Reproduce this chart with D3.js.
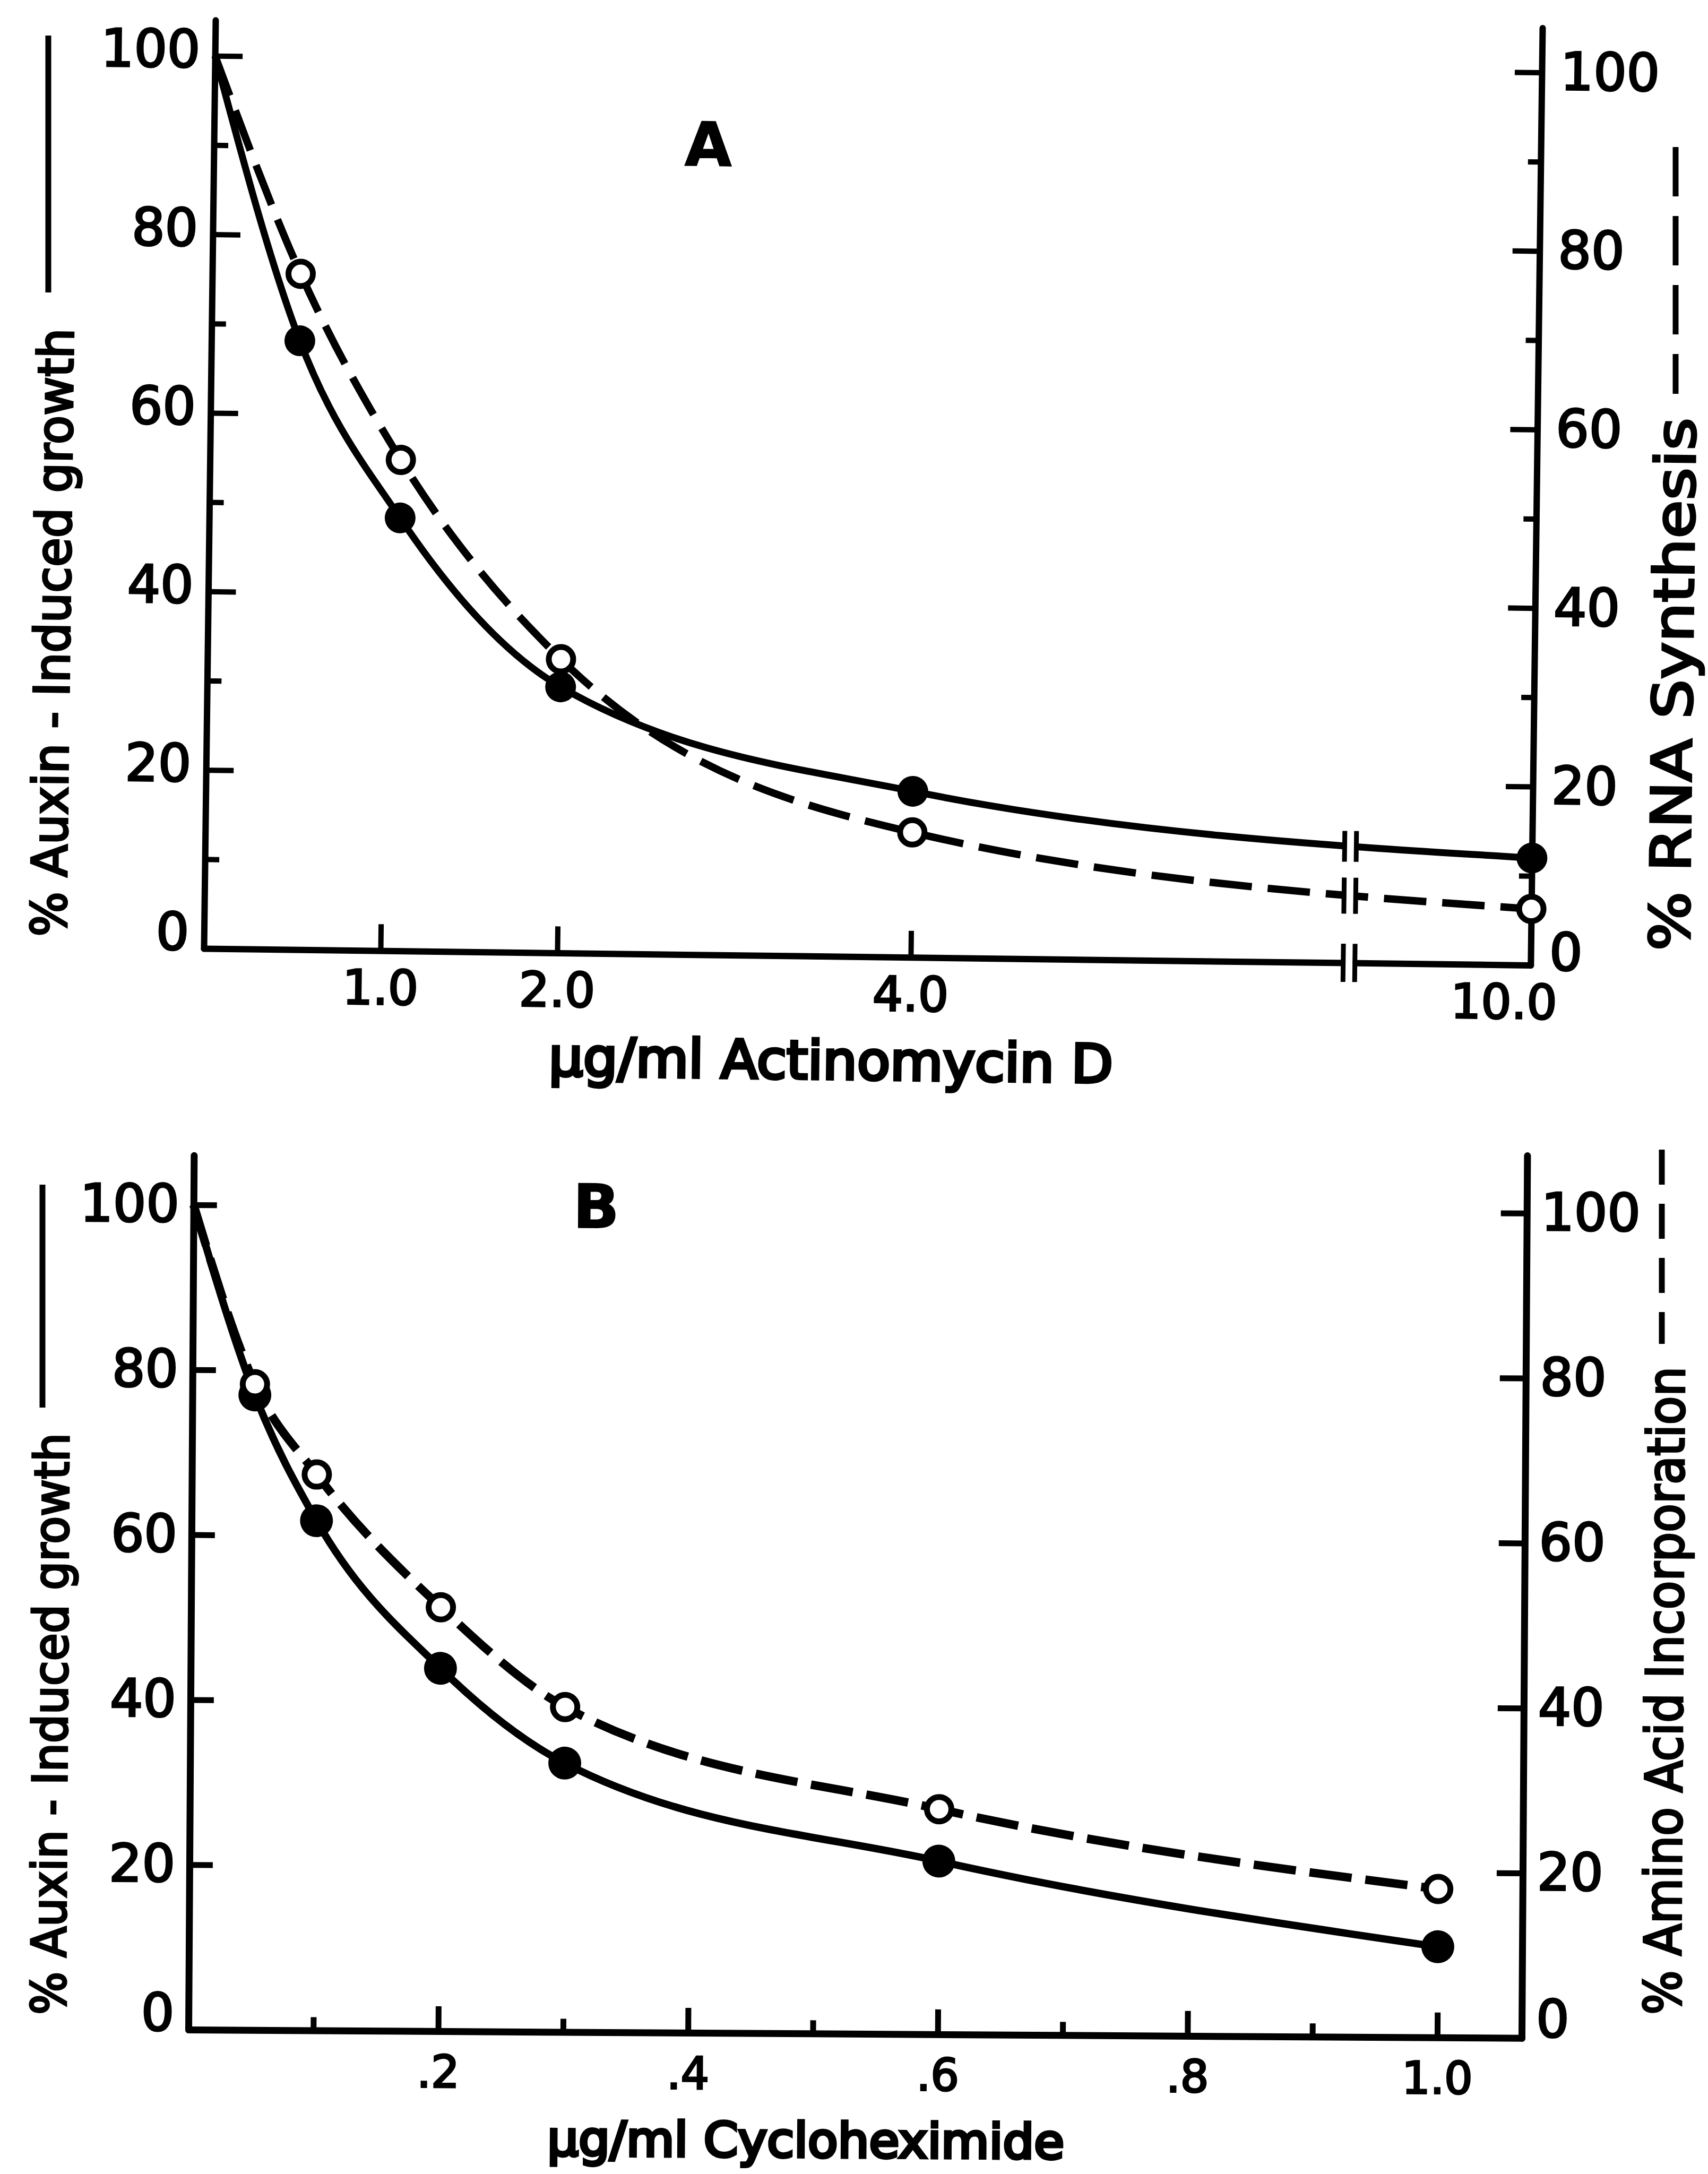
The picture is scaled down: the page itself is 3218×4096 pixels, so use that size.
<!DOCTYPE html>
<html>
<head>
<meta charset="utf-8">
<script src="https://cdn.jsdelivr.net/npm/d3@7/dist/d3.min.js"></script>
<style>
  body { margin: 0; background: #fff; }
  svg { display: block; }
</style>
</head>
<body>
<script>
const W = 3218, H = 4096;
const FONT = "'DejaVu Sans', 'Liberation Sans', sans-serif";

// panel A - Actinomycin D
const actDose = [0, 0.5, 1.08, 2.0, 4.0, 10.0];
const actGrowth = [100, 68.2, 48.5, 29.8, 18.6, 12.0];
const actRNA = [100, 75.7, 55.0, 32.9, 14.0, 6.3];
const actTicks = [1.0, 2.0, 4.0, 10.0];
const actTickLabels = ["1.0", "2.0", "4.0", "10.0"];
const actBreak = 6.48;

// panel B - Cycloheximide
const cycDose = [0, 0.05, 0.1, 0.2, 0.3, 0.6, 1.0];
const cycGrowth = [100, 77.0, 61.8, 44.0, 32.6, 21.0, 11.0];
const cycAmino = [100, 78.3, 67.4, 51.4, 39.4, 27.3, 18.0];
const cycTicks = [0.2, 0.4, 0.6, 0.8, 1.0];
const cycTickLabels = [".2", ".4", ".6", ".8", "1.0"];
const cycMinorTicks = [0.1, 0.3, 0.5, 0.7, 0.9];

// percent axes (both panels, both sides)
const pctTicks = [0, 20, 40, 60, 80, 100];
const pctMinorTicks = [10, 30, 50, 70, 90];

const svg = d3.select("body").append("svg")
  .attr("width", W)
  .attr("height", H)
  .style("background", "#fff");

function yAtX(node, xt) {
  let lo = 0, hi = node.getTotalLength();
  for (let k = 0; k < 40; k++) {
    const mid = (lo + hi) / 2;
    if (node.getPointAtLength(mid).x < xt) lo = mid; else hi = mid;
  }
  return node.getPointAtLength(lo).y;
}

function styleAxis(sel, p, fs) {
  sel.attr("font-family", FONT).attr("font-size", fs);
  sel.select(".domain").attr("stroke-width", p.axisW).attr("stroke-linecap", "round");
  sel.selectAll(".tick line").attr("stroke-width", p.tickW);
  // the printed digits are heavier than the plain face
  sel.selectAll(".tick text").attr("stroke", "#000").attr("stroke-width", 3.5);
}

function drawPanel(p) {
  // the scanned figure is slightly rotated, so each panel is too
  const g = svg.append("g")
    .attr("transform", `translate(${p.ox},${p.oy}) rotate(${p.angle})`);

  const x = p.x;
  const xEnd = d3.max(x.range());
  const yLeft = d3.scaleLinear().domain([0, p.leftTop]).range([0, -p.leftTop * p.unit]);
  const yRight = d3.scaleLinear().domain([0, p.rightTop]).range([0, -p.rightTop * p.unit]);

  // left axis
  const gl = g.append("g").call(
    d3.axisLeft(yLeft).tickValues(pctTicks).tickFormat((d) => d)
      .tickSize(-p.leftTick).tickSizeOuter(0).tickPadding(p.leftPad)
  );
  styleAxis(gl, p, p.yFont);
  gl.selectAll(".tick text").attr("y", (d) => (d === 0 ? -p.zeroLiftL : -p.liftL));

  // right axis
  const gr = g.append("g").attr("transform", `translate(${xEnd},0)`).call(
    d3.axisRight(yRight).tickValues(pctTicks).tickFormat((d) => d)
      .tickSize(-p.rightTick).tickSizeOuter(0).tickPadding(p.rightPad)
  );
  styleAxis(gr, p, p.yFont);
  gr.selectAll(".tick text").attr("y", (d) => (d === 0 ? -p.zeroLiftR : 0));

  if (p.yMinor) {
    const ml = g.append("g").call(
      d3.axisLeft(yLeft).tickValues(pctMinorTicks).tickFormat("").tickSize(-p.leftMinor)
    );
    ml.select(".domain").remove();
    ml.selectAll(".tick line").attr("stroke-width", p.tickW);
    const mr = g.append("g").attr("transform", `translate(${xEnd},0)`).call(
      d3.axisRight(yRight).tickValues(pctMinorTicks).tickFormat("").tickSize(-p.rightMinor)
    );
    mr.select(".domain").remove();
    mr.selectAll(".tick line").attr("stroke-width", p.tickW);
  }

  // bottom axis
  const gx = g.append("g").call(
    d3.axisBottom(x).tickValues(p.xTicks)
      .tickFormat((d) => p.xLabels[p.xTicks.indexOf(d)])
      .tickSize(-p.xTick).tickSizeOuter(0).tickPadding(p.xPad)
  );
  styleAxis(gx, p, p.xFont);
  gx.selectAll(".tick text").attr("x", (d) => (d === 10 ? -50 : 0));

  if (p.xMinor) {
    const mx = g.append("g").call(
      d3.axisBottom(x).tickValues(p.xMinor).tickFormat("").tickSize(-p.xMinorLen)
    );
    mx.select(".domain").remove();
    mx.selectAll(".tick line").attr("stroke-width", p.tickW);
  }

  // curves
  const line = d3.line()
    .x((d) => x(d[0]))
    .y((d) => yLeft(d[1]))
    .curve(d3.curveMonotoneX);

  const solid = g.append("path")
    .datum(d3.zip(p.dose, p.solid))
    .attr("d", line)
    .attr("fill", "none")
    .attr("stroke", "#000")
    .attr("stroke-width", p.solidW);

  const dashed = g.append("path")
    .datum(d3.zip(p.dose, p.dashed))
    .attr("d", line)
    .attr("fill", "none")
    .attr("stroke", "#000")
    .attr("stroke-width", p.dashW)
    .attr("stroke-dasharray", p.dash);

  const pts = p.dose.map((d, i) => i).filter((i) => p.dose[i] > 0);

  g.selectAll(".filled")
    .data(pts)
    .enter()
    .append("circle")
    .attr("class", "filled")
    .attr("cx", (i) => x(p.dose[i]))
    .attr("cy", (i) => yLeft(p.solid[i]))
    .attr("r", p.filledR)
    .attr("fill", "#000");

  g.selectAll(".open")
    .data(pts)
    .enter()
    .append("circle")
    .attr("class", "open")
    .attr("cx", (i) => x(p.dose[i]))
    .attr("cy", (i) => yRight(p.dashed[i]))
    .attr("r", p.openR)
    .attr("fill", "#fff")
    .attr("stroke", "#000")
    .attr("stroke-width", p.openW);

  // axis break marks
  if (p.breakAt != null) {
    const xb = x(p.breakAt);
    const half = 11;
    const marks = [
      { y: 0, h: 36 },
      { y: yAtX(solid.node(), xb), h: 29 },
      { y: yAtX(dashed.node(), xb), h: 34 },
    ];
    marks.forEach((m) => {
      g.append("rect")
        .attr("x", xb - half + 4)
        .attr("width", 2 * half - 8)
        .attr("y", m.y - 20)
        .attr("height", 40)
        .attr("fill", "#fff");
      [-half, half].forEach((dx) => {
        g.append("line")
          .attr("x1", xb + dx).attr("x2", xb + dx)
          .attr("y1", m.y - m.h).attr("y2", m.y + m.h)
          .attr("stroke", "#000")
          .attr("stroke-width", 9);
      });
    });
  }
}

drawPanel({
  ox: 384, oy: 1787, angle: 0.72, unit: 16.82,
  leftTop: 104, rightTop: 105,
  x: d3.scaleLinear().domain([0, actBreak, 10]).range([0, actBreak * 333, 2500]),
  xTicks: actTicks, xLabels: actTickLabels,
  dose: actDose, solid: actGrowth, dashed: actRNA,
  breakAt: actBreak,
  leftTick: 52, leftMinor: 27, leftPad: 28, liftL: 10, zeroLiftL: 29,
  rightTick: 51, rightMinor: 24, rightPad: 35, zeroLiftR: 23,
  yMinor: true,
  xTick: 50, xPad: 37, xFont: 90, yFont: 98,
  axisW: 12, tickW: 10, solidW: 13, dashW: 14, dash: "80 30",
  filledR: 29, openR: 23, openW: 11,
});

drawPanel({
  ox: 355, oy: 3824, angle: 0.36, unit: 15.54,
  leftTop: 106, rightTop: 107,
  x: d3.scaleLinear().domain([0, 1.0676]).range([0, 2512]),
  xTicks: cycTicks, xLabels: cycTickLabels,
  xMinor: cycMinorTicks, xMinorLen: 25,
  dose: cycDose, solid: cycGrowth, dashed: cycAmino,
  leftTick: 44, leftPad: 27, liftL: 0, zeroLiftL: 30,
  rightTick: 49, rightPad: 27, zeroLiftR: 34,
  yMinor: false,
  xTick: 47, xPad: 46, xFont: 84, yFont: 98,
  axisW: 13, tickW: 11, solidW: 14, dashW: 16, dash: "80 26",
  filledR: 31, openR: 23, openW: 11,
});

// titles and panel letters
function label(txt, x, y, size, len, angle, opts = {}) {
  const t = svg.append("text")
    .attr("x", x)
    .attr("y", y)
    .attr("font-family", FONT)
    .attr("font-size", size)
    .attr("text-anchor", opts.anchor || "middle")
    .attr("font-weight", opts.bold ? "bold" : null)
    .attr("stroke", "#000")
    .attr("stroke-width", opts.sw == null ? 4 : opts.sw)
    .attr("transform", `rotate(${angle},${x},${y})`)
    .text(txt);
  if (len) t.attr("textLength", len).attr("lengthAdjust", "spacingAndGlyphs");
  return t;
}

label("\u03bcg/ml Actinomycin D", 1565, 2033, 100, 1063, 0.72, { sw: 6 });
label("\u03bcg/ml Cycloheximide", 1518, 4064, 90, 974, 0.36, { sw: 6 });
label("A", 1334, 312, 114, null, 0.72, { bold: true, sw: 2 });
label("B", 1123, 2313, 114, null, 0.36, { bold: true, sw: 2 });

// side axis titles with their line-style keys
label("% Auxin - Induced growth", 124, 1765, 92, 1146, -89.28, { anchor: "start" });
label("% RNA  Synthesis", 3182, 1792, 104, 1005, -89.28, { anchor: "start" });
label("% Auxin - Induced growth", 123, 3796, 90, 1096, -89.64, { anchor: "start" });
label("% Amino Acid Incorporation", 3166, 3796, 96, 1221, -89.64, { anchor: "start" });

const keys = [
  { x: 91, y1: 67, y2: 551, dash: null },
  { x: 3157, y1: 277, y2: 742, dash: "93 37" },
  { x: 80, y1: 2232, y2: 2652, dash: null },
  { x: 3131, y1: 2166, y2: 2532, dash: "66 36" },
];
svg.selectAll(".key")
  .data(keys)
  .enter()
  .append("line")
  .attr("class", "key")
  .attr("x1", (d) => d.x).attr("x2", (d) => d.x)
  .attr("y1", (d) => d.y1).attr("y2", (d) => d.y2)
  .attr("stroke", "#000")
  .attr("stroke-width", 11)
  .attr("stroke-dasharray", (d) => d.dash);
</script>
</body>
</html>
